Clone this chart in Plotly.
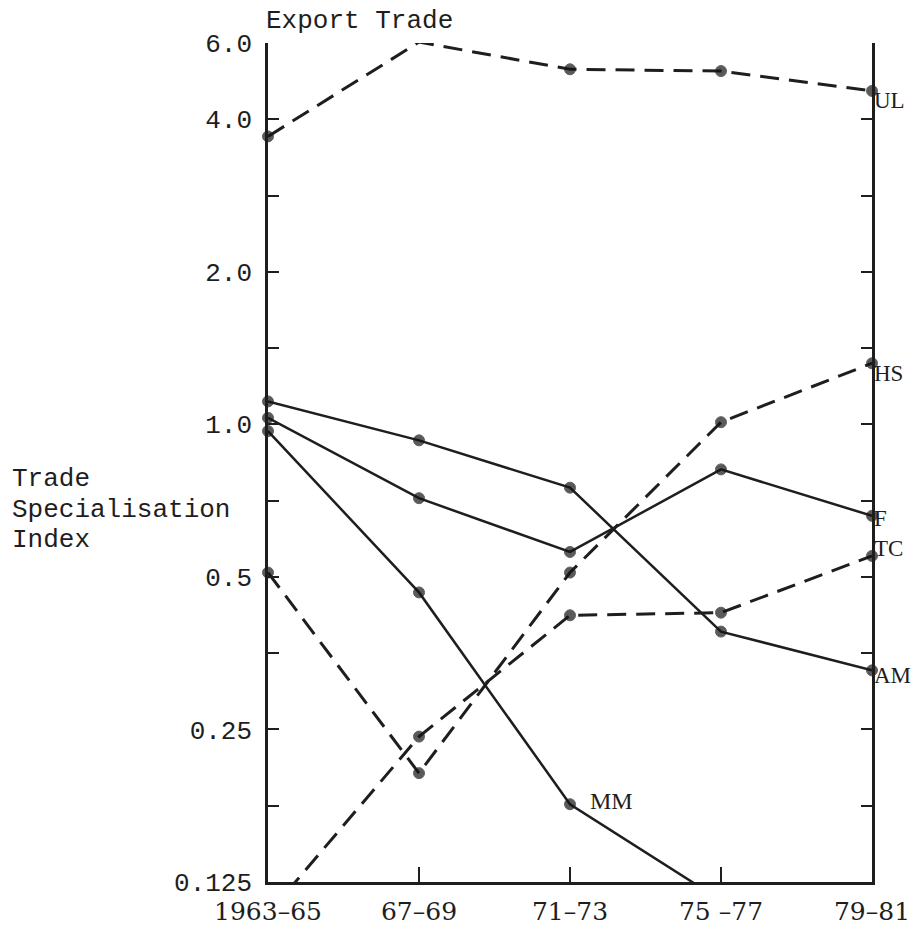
import math
import plotly.graph_objects as go

periods = ["1963–65", "67–69", "71–73", "75 –77", "79–81"]

series_names = ["UL", "HS", "TC", "AM", "F", "MM"]
ul = [3.70, 5.68, 5.02, 4.98, 4.55]
hs = [0.51, 0.205, 0.51, 1.01, 1.32]
tc = [0.108, 0.242, 0.42, 0.425, 0.55]
am = [1.11, 0.93, 0.75, 0.39, 0.327]
f_ = [1.03, 0.715, 0.56, 0.815, 0.66]
mm = [0.97, 0.466, 0.178, 0.115, None]
series_values = [ul, hs, tc, am, f_, mm]
series_dashed = [True, True, True, False, False, False]

y_tick_vals = [0.125 * 2 ** (k / 2) for k in range(12)]
y_tick_text = ["0.125", "", "0.25", "", "0.5", "", "1.0", "", "2.0", "", "4.0", "6.0"]

y_min = 0.125
y_max = y_tick_vals[-1]

ink = "#1e1e1e"
mono = "Liberation Mono"
serif = "DejaVu Serif"
lab_serif = "Liberation Serif"

fig = go.Figure()
xs = list(range(len(periods)))
for name, vals, dashed in zip(series_names, series_values, series_dashed):
    sizes = [0 if (v is None or v < y_min) else 11 for v in vals]
    fig.add_trace(go.Scatter(
        x=xs, y=vals, mode="lines+markers", name=name,
        line=dict(color=ink, width=3 if dashed else 2.5,
                  dash="19px,10px" if dashed else "solid"),
        marker=dict(color="#151515", size=sizes),
        cliponaxis=False, hoverinfo="skip", connectgaps=False,
    ))

# right-end series labels (label, series index, vertical offset in px)
end_labels = [("UL", 0, -10), ("HS", 1, -10), ("F", 4, -3), ("TC", 2, 7), ("AM", 3, -5)]
for lab, idx, ysh in end_labels:
    v = series_values[idx][-1]
    fig.add_annotation(x=xs[-1], y=math.log10(v), xref="x", yref="y", text=lab,
                       showarrow=False, xanchor="left", yanchor="middle",
                       xshift=0, yshift=ysh,
                       font=dict(family=lab_serif, size=23, color=ink))

fig.add_annotation(x=xs[2], y=math.log10(mm[2]), xref="x", yref="y", text="MM",
                   showarrow=False, xanchor="left", yanchor="middle",
                   xshift=18, yshift=3, font=dict(family=lab_serif, size=24, color=ink))

fig.add_annotation(x=0, y=1, xref="paper", yref="paper", text="Export Trade",
                   showarrow=False, xanchor="left", yanchor="bottom",
                   xshift=-4, yshift=5, font=dict(family=mono, size=26, color=ink))

title_lines = ["Trade", "Specialisation", "Index"]
title_centers_px = [479, 510, 540]
plot_top, plot_bottom = 43, 882
for line, ypx in zip(title_lines, title_centers_px):
    fig.add_annotation(x=0, y=(plot_bottom - ypx) / (plot_bottom - plot_top),
                       xref="paper", yref="paper", text=line, align="left",
                       showarrow=False, xanchor="left", yanchor="middle",
                       xshift=-258, font=dict(family=mono, size=26, color=ink))

fig.update_layout(
    width=913, height=928,
    margin=dict(l=268, r=41, t=plot_top, b=928 - plot_bottom, autoexpand=False),
    plot_bgcolor="white", paper_bgcolor="white",
    showlegend=False,
)
fig.update_xaxes(
    range=[0, len(periods) - 1], tickvals=xs, ticktext=periods,
    showline=True, linecolor=ink, linewidth=2.5,
    ticks="inside", ticklen=15, tickwidth=2, tickcolor=ink,
    showgrid=False, zeroline=False, automargin=False, ticklabelstandoff=5,
    tickfont=dict(family=serif, size=25, color=ink),
)
fig.update_yaxes(
    type="log", range=[math.log10(y_min), math.log10(y_max)],
    tickvals=y_tick_vals, ticktext=y_tick_text,
    showline=True, mirror="ticks", linecolor=ink, linewidth=2.5,
    ticks="inside", ticklen=11, tickwidth=2, tickcolor=ink,
    showgrid=False, zeroline=False, ticklabelstandoff=8, automargin=False,
    tickfont=dict(family=mono, size=26, color=ink),
)

fig.write_html(
    "out.html",
    config={"displayModeBar": False},
    post_script="document.body.style.margin='0';document.body.style.padding='0';"
                "document.documentElement.style.overflow='hidden';",
)
